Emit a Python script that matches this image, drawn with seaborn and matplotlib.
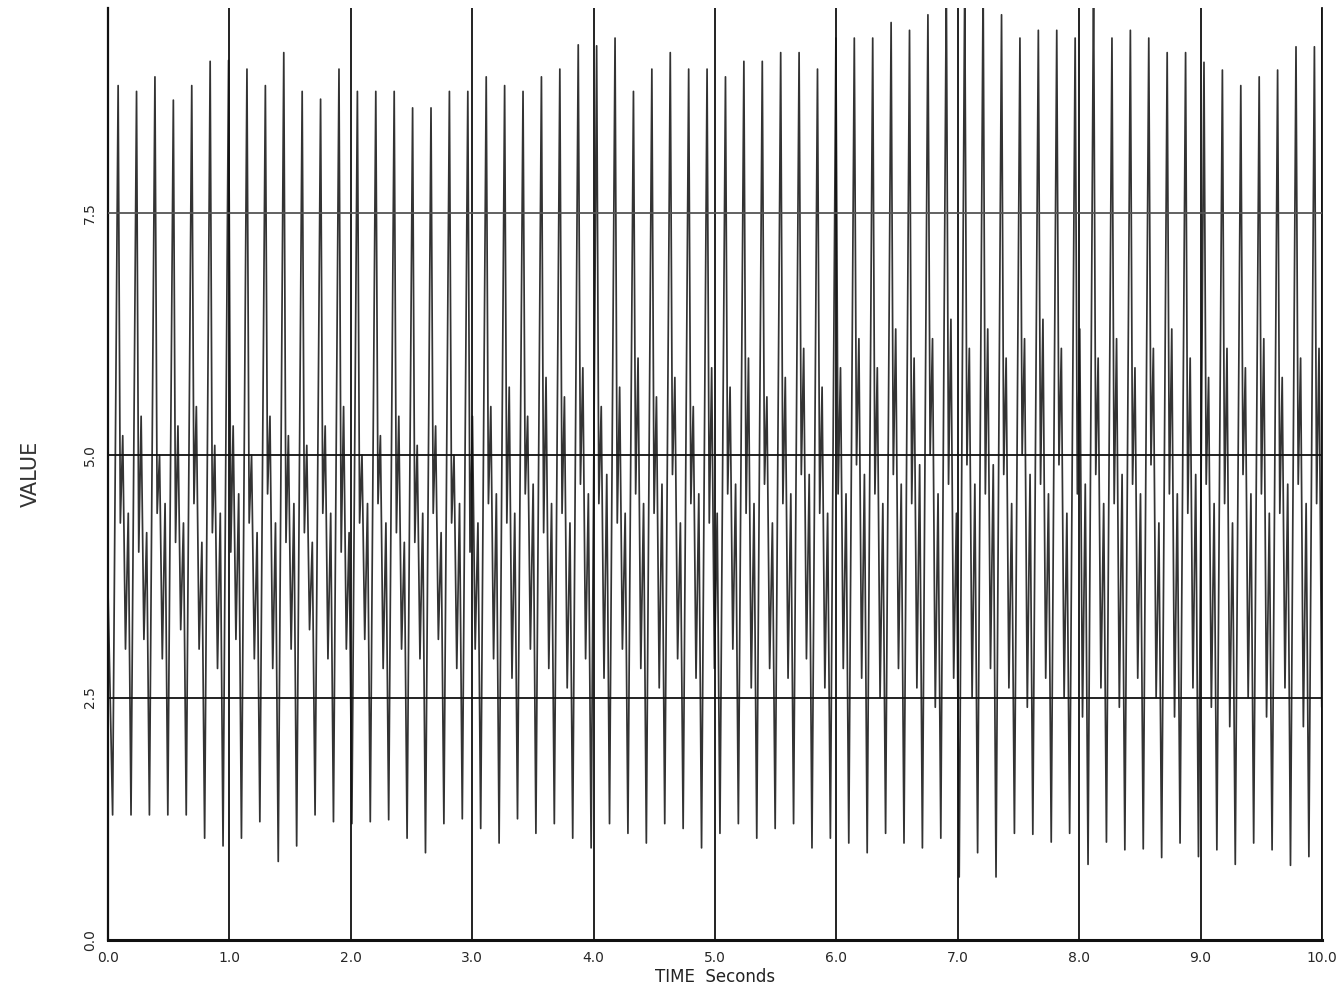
import numpy as np
import pandas as pd
import matplotlib
matplotlib.use("Agg")
import matplotlib.pyplot as plt
import seaborn as sns

# ---- data ----
peaks = [8.81, 8.75, 8.90, 8.66, 8.81, 9.06, 9.07, 8.98, 8.81, 9.15, 8.75, 8.67, 8.98,
         8.75, 8.75, 8.75, 8.58, 8.58, 8.75, 8.75, 8.90, 8.81, 8.75, 8.90, 8.98, 9.23,
         9.22, 9.30, 8.75, 8.98, 9.15, 8.98, 8.98,
         8.90, 9.06, 9.06, 9.15, 9.15, 8.98, 9.30, 9.30, 9.30, 9.46, 9.38, 9.54, 9.90,
         9.90, 9.90, 9.54, 9.30, 9.38, 9.38, 9.30, 9.90, 9.30, 9.38, 9.30, 9.15, 9.15,
         9.05, 8.97, 8.81, 8.90, 8.97, 9.21, 9.21]

troughs = [1.29, 1.29, 1.29, 1.29, 1.29, 1.05, 0.97, 1.05, 1.22, 0.81, 0.97, 1.29, 1.22,
           1.20, 1.22, 1.24,
           1.05, 0.90, 1.20, 1.25, 1.15, 1.00, 1.25, 1.10, 1.20, 1.05, 0.95, 1.20, 1.10,
           1.00, 1.20, 1.15, 0.95, 1.10, 1.20, 1.05, 1.15, 1.20, 0.95, 1.05, 1.00, 0.90,
           1.10, 1.00, 0.95, 1.05, 0.65, 0.90, 0.65,
           1.10, 1.09, 1.01, 1.10, 0.78, 1.01, 0.93, 0.94, 0.85, 1.00, 0.86, 0.93, 0.78,
           1.00, 0.93, 0.77, 0.86]

mid_a = [4.3, 4.0, 4.4, 4.1, 4.5, 4.2, 4.0, 4.3, 4.6, 4.1, 4.2, 4.4, 4.0, 4.3, 4.5, 4.2,
         4.1, 4.4, 4.3, 4.0,
         4.5, 4.3, 4.6, 4.2, 4.4, 4.7, 4.5, 4.3, 4.6, 4.4, 4.8, 4.5, 4.3, 4.6, 4.4, 4.7,
         4.5, 4.8, 4.4, 4.6,
         4.9, 4.6, 4.8, 4.5, 5.0, 4.7, 4.9, 4.6, 4.8, 5.0, 4.7, 4.9, 4.6, 4.8, 4.5, 4.7,
         4.9, 4.6, 4.4, 4.7, 4.5, 4.8, 4.6, 4.4, 4.7, 4.5]

mid_b = [5.2, 5.4, 5.0, 5.3, 5.5, 5.1, 5.3, 5.0, 5.4, 5.2, 5.1, 5.3, 5.5, 5.0, 5.2, 5.4,
         5.1, 5.3, 5.0, 5.4,
         5.5, 5.7, 5.4, 5.8, 5.6, 5.9, 5.5, 5.7, 6.0, 5.6, 5.8, 5.5, 5.9, 5.7, 6.0, 5.6,
         5.8, 6.1, 5.7, 5.9,
         6.2, 5.9, 6.3, 6.0, 6.2, 6.4, 6.1, 6.3, 6.0, 6.2, 6.4, 6.1, 6.3, 6.0, 6.2, 5.9,
         6.1, 6.3, 6.0, 5.8, 6.1, 5.9, 6.2, 5.8, 6.0, 6.1]

mid_c = [3.0, 3.1, 2.9, 3.2, 3.0, 2.8, 3.1, 2.9, 2.8, 3.0, 3.2, 2.9, 3.0, 3.1, 2.8, 3.0,
         2.9, 3.1, 2.8, 3.0,
         2.9, 2.7, 3.0, 2.8, 2.6, 2.9, 2.7, 3.0, 2.8, 2.6, 2.9, 2.7, 2.8, 3.0, 2.6, 2.8,
         2.7, 2.9, 2.6, 2.8,
         2.7, 2.5, 2.8, 2.6, 2.4, 2.7, 2.5, 2.8, 2.6, 2.4, 2.7, 2.5, 2.3, 2.6, 2.4, 2.7,
         2.5, 2.3, 2.6, 2.4, 2.2, 2.5, 2.3, 2.6, 2.2, 2.4]

mid_d = [4.4, 4.2, 4.5, 4.3, 4.1, 4.4, 4.6, 4.2, 4.3, 4.5, 4.1, 4.4, 4.2, 4.5, 4.3, 4.1,
         4.4, 4.2, 4.5, 4.3,
         4.6, 4.4, 4.7, 4.5, 4.3, 4.6, 4.8, 4.4, 4.5, 4.7, 4.3, 4.6, 4.4, 4.7, 4.5, 4.3,
         4.6, 4.8, 4.4, 4.6,
         4.8, 4.5, 4.7, 4.9, 4.6, 4.4, 4.7, 4.9, 4.5, 4.8, 4.6, 4.4, 4.7, 4.5, 4.8, 4.6,
         4.3, 4.6, 4.8, 4.5, 4.3, 4.6, 4.4, 4.7, 4.5, 4.3]

start_value = 3.6
period = 0.1516      # seconds per cycle
first_trough = 0.038 # time of first trough
phase_offsets = [0.0, 0.30, 0.42, 0.55, 0.70, 0.85]

x_ticks = [0.0, 1.0, 2.0, 3.0, 4.0, 5.0, 6.0, 7.0, 8.0, 9.0, 10.0]
x_labels = ["0.0", "1.0", "2.0", "3.0", "4.0", "5.0", "6.0", "7.0", "8.0", "9.0", "10.0"]
y_ticks = [0.0, 2.5, 5.0, 7.5]
y_labels = ["0.0", "2.5", "5.0", "7.5"]

# ---- assemble the sampled series ----
times = [0.0]
vals = [start_value]
for k in range(len(peaks)):
    t0 = first_trough + k * period
    cyc = [troughs[k], peaks[k], mid_a[k], mid_b[k], mid_c[k], mid_d[k]]
    for off, v in zip(phase_offsets, cyc):
        times.append(t0 + off * period)
        vals.append(v)
df = pd.DataFrame({"t": times, "v": vals})

# ---- draw ----
sns.set_style("white")
plt.rcParams["font.family"] = ["DejaVu Sans"]
fig = plt.figure(figsize=(13.41, 9.89), dpi=100)
ax = fig.add_axes([108 / 1341, 1 - 940 / 989, (1322 - 108) / 1341, (940 - 8) / 989])

sns.lineplot(data=df, x="t", y="v", estimator=None, sort=False, ax=ax,
             color="#333333", linewidth=1.25)

for xv in x_ticks:
    ax.axvline(xv, color="#111111", linewidth=1.3, zorder=3)
for yv, c in [(2.5, "#111111"), (5.0, "#111111"), (7.5, "#555555")]:
    ax.axhline(yv, color=c, linewidth=1.3, zorder=3)

ax.set_xlim(0, 10)
ax.set_ylim(0, 9.61)
ax.set_xticks(x_ticks)
ax.set_xticklabels(x_labels, fontsize=10)
ax.set_yticks(y_ticks)
ax.set_yticklabels(y_labels, fontsize=10, rotation=90, va="center")
ax.tick_params(axis="both", direction="out", length=5, width=1, color="#111111", pad=3)

ax.spines["top"].set_visible(False)
ax.spines["bottom"].set_linewidth(2.2)
ax.spines["left"].set_linewidth(1.6)
ax.spines["right"].set_linewidth(1.3)
for s in ax.spines.values():
    s.set_color("#111111")

ax.set_xlabel("TIME  Seconds", fontsize=12, labelpad=2, color="#222222")
ax.set_ylabel("VALUE", fontsize=15, labelpad=30, color="#333333")

fig.savefig("out.png", dpi=100, facecolor="white")
